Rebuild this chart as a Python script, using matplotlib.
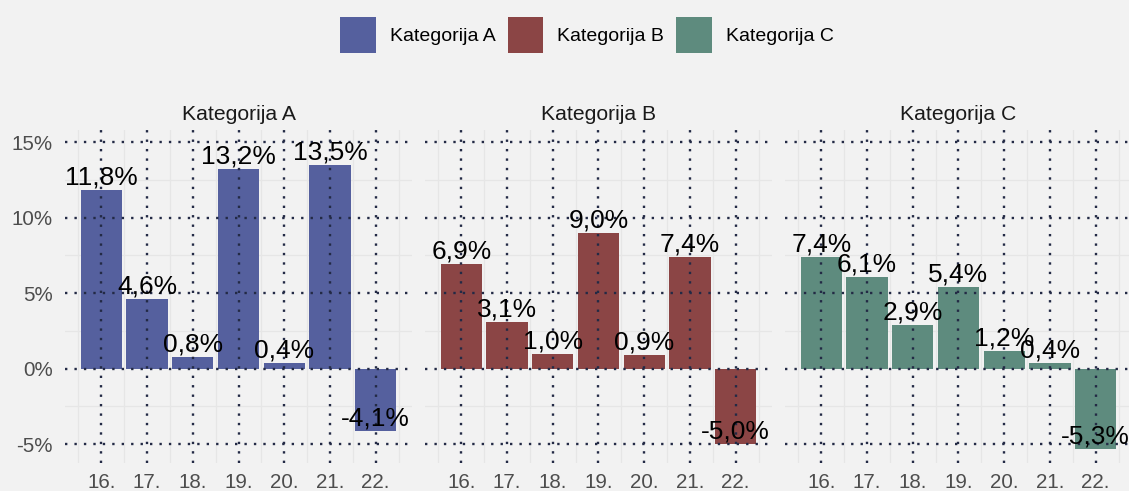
import matplotlib.pyplot as plt
from matplotlib.patches import Patch
from matplotlib.ticker import FuncFormatter

plt.rcParams['font.family'] = ['Liberation Sans', 'DejaVu Sans']

# data
years = [16, 17, 18, 19, 20, 21, 22]
year_labels = ["16.", "17.", "18.", "19.", "20.", "21.", "22."]
categories = ["Kategorija A", "Kategorija B", "Kategorija C"]
values_a = [11.8, 4.6, 0.8, 13.2, 0.4, 13.5, -4.1]
values_b = [6.9, 3.1, 1.0, 9.0, 0.9, 7.4, -5.0]
values_c = [7.4, 6.1, 2.9, 5.4, 1.2, 0.4, -5.3]
colors = ["#55609E", "#8B4545", "#5E8B7E"]

bg = "#F2F2F2"
W, H = 1129, 491
fig = plt.figure(figsize=(W / 100, H / 100), dpi=100, facecolor=bg)

series = [values_a, values_b, values_c]
lefts = [65, 425, 785]
pw = 347
top, bottom = 130, 463

def fmt_pct(v):
    return f"{v:.1f}".replace(".", ",") + "%"

for i, (name, vals, col) in enumerate(zip(categories, series, colors)):
    ax = fig.add_axes([lefts[i] / W, 1 - bottom / H, pw / W, (bottom - top) / H])
    ax.set_facecolor(bg)
    for s in ax.spines.values():
        s.set_visible(False)

    # minor grid (under the bars)
    for yv in [-2.5, 2.5, 7.5, 12.5]:
        ax.axhline(yv, color="#E6E6E6", lw=0.9, zorder=0)
    for xv in [15.5, 16.5, 17.5, 18.5, 19.5, 20.5, 21.5, 22.5]:
        ax.axvline(xv, color="#E6E6E6", lw=0.9, zorder=0)

    ax.bar(years, vals, width=0.9, color=col, zorder=1)

    # dotted major grid drawn over the bars
    for yv in [-5, 0, 5, 10, 15]:
        ax.axhline(yv, color="#232A45", lw=1.7, ls=(0, (1, 3.0)), zorder=2)
    for xv in years:
        ax.axvline(xv, color="#232A45", lw=1.7, ls=(0, (1, 3.0)), zorder=2)

    for x, v in zip(years, vals):
        ax.annotate(fmt_pct(v), (x, v), xytext=(0, 4), textcoords="offset points",
                    ha="center", va="baseline", fontsize=19, color="black",
                    zorder=3, annotation_clip=False)

    ax.set_xlim(15.205, 22.795)
    ax.set_ylim(-6.24, 15.8)
    ax.set_xticks(years)
    ax.set_xticklabels(year_labels)
    ax.set_yticks([-5, 0, 5, 10, 15])
    ax.yaxis.set_major_formatter(FuncFormatter(lambda v, p: f"{v:.0f}%"))
    ax.tick_params(axis="both", length=0, labelsize=14.8, labelcolor="#4D4D4D")
    ax.tick_params(axis="x", pad=7)
    ax.tick_params(axis="y", pad=9)
    if i > 0:
        ax.tick_params(axis="y", labelleft=False)

    ax.text(0.5, 1 + 15 / (bottom - top), name, transform=ax.transAxes,
            ha="center", va="center", fontsize=15.2, color="#1A1A1A")

handles = [Patch(facecolor=c, edgecolor="none") for c in colors]
fig.legend(handles, categories, loc="center", bbox_to_anchor=(587 / W, 1 - 35 / H),
           ncol=3, frameon=False, fontsize=14, handlelength=1.85, handleheight=2.45,
           handletextpad=0.72, columnspacing=0.62, borderpad=0, labelcolor="black")

fig.savefig("out.png", dpi=100, facecolor=bg)
